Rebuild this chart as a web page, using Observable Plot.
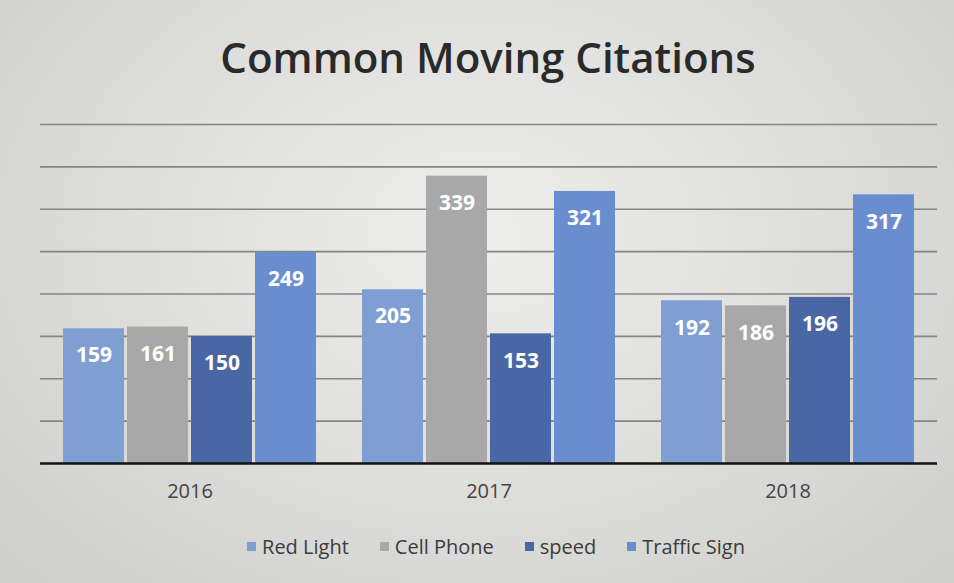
<!DOCTYPE html>
<html>
<head>
<meta charset="utf-8">
<script src="https://cdn.jsdelivr.net/npm/d3@7"></script>
<script src="https://cdn.jsdelivr.net/npm/@observablehq/plot@0.6"></script>
<style>
  html, body { margin: 0; padding: 0; }
  #page {
    position: relative; width: 954px; height: 583px; overflow: hidden;
    background: radial-gradient(ellipse at 50% 40%, #eeeeec 0%, #e0e0de 45%, #cdcdcb 100%);
    font-family: "Open Sans", sans-serif;
  }
  #title {
    position: absolute; top: 28px; left: 0; width: 976px; text-align: center;
    font-size: 42px; font-weight: 600; color: #2a2a2a; letter-spacing: 0px;
  }
  #chart { position: absolute; top: 100px; left: 0; }
  #legend {
    position: absolute; top: 533px; left: 0; width: 992px;
    display: flex; justify-content: center; gap: 31px;
    font-size: 20px; color: #3c3c3c;
  }
  .item { display: flex; align-items: center; gap: 6px; }
  .sw { width: 9px; height: 9px; display: inline-block; }
</style>
</head>
<body>
<div id="page">
  <div id="title">Common Moving Citations</div>
  <div id="chart"></div>
  <div id="legend"></div>
</div>
<script>
const years = ["2016", "2017", "2018"];
const series = ["Red Light", "Cell Phone", "speed", "Traffic Sign"];
const redLight = [159, 205, 192];
const cellPhone = [161, 339, 186];
const speed = [150, 153, 196];
const trafficSign = [249, 321, 317];
const gridTicks = [50, 100, 150, 200, 250, 300, 350, 400];
const colors = ["#7f9fd3", "#a8a8a8", "#4a67a5", "#6a8dd0"];

const seriesValues = [redLight, cellPhone, speed, trafficSign];
const data = years.flatMap((y, i) => series.map((s, j) => ({year: y, series: s, value: seriesValues[j][i]})));

const chart = Plot.plot({
  width: 954,
  height: 410,
  marginTop: 24,
  marginBottom: 47,
  marginLeft: 40,
  marginRight: 17,
  style: {background: "transparent", fontSize: "20px", color: "#444", fontFamily: "Open Sans, sans-serif"},
  fx: {domain: years, padding: 0, label: null, axis: "bottom", tickSize: 0, tickPadding: 20},
  x: {domain: series, paddingInner: 0.04, paddingOuter: 0.335, axis: null},
  y: {domain: [0, 400], axis: null},
  color: {domain: series, range: colors},
  marks: [
    Plot.ruleY(gridTicks, {stroke: "#858585", strokeWidth: 1.6}),
    Plot.barY(data, {fx: "year", x: "series", y: "value", fill: "series"}),
    Plot.text(data, {fx: "year", x: "series", y: "value", text: d => String(d.value), dy: 27,
      fill: "white", fontWeight: "bold", fontSize: 21}),
    Plot.ruleY([0], {stroke: "#111", strokeWidth: 2.5})
  ]
});
document.getElementById("chart").appendChild(chart);

const legend = document.getElementById("legend");
series.forEach((s, i) => {
  const it = document.createElement("div");
  it.className = "item";
  const sw = document.createElement("span");
  sw.className = "sw";
  sw.style.background = colors[i];
  const t = document.createElement("span");
  t.textContent = s;
  it.appendChild(sw); it.appendChild(t);
  legend.appendChild(it);
});
</script>
</body>
</html>
